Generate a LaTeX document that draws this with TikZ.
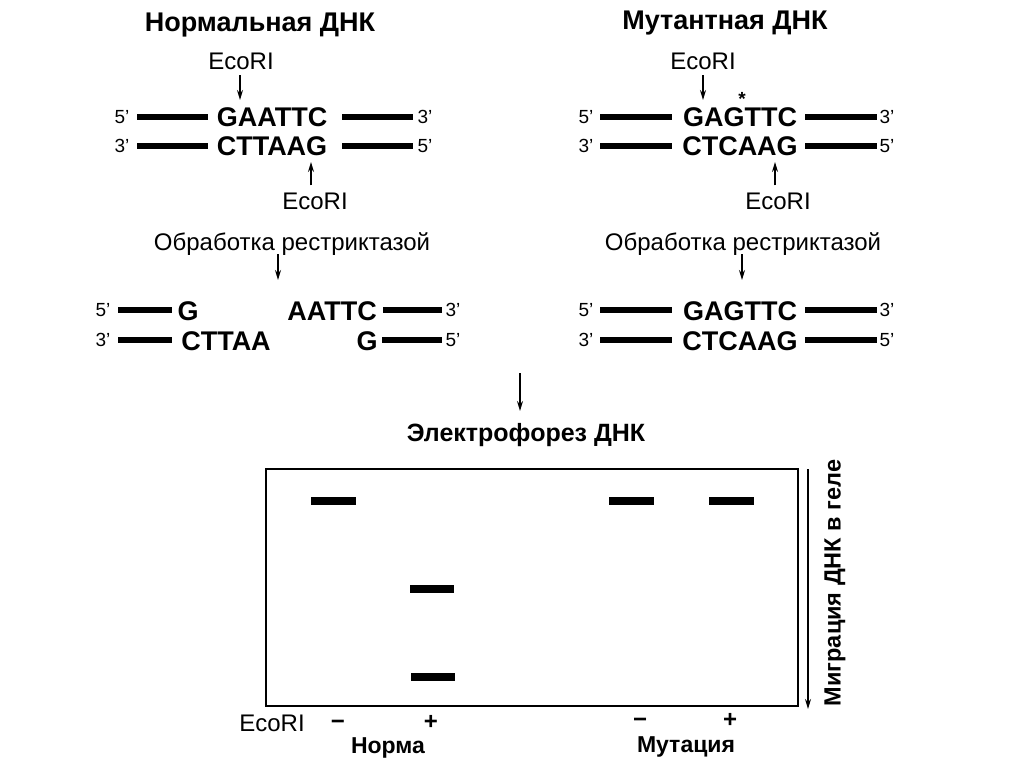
\documentclass[tikz,border=0pt]{standalone}
\usepackage{fontspec}
\setmainfont{Liberation Sans}
\usetikzlibrary{arrows.meta,calc}
\begin{document}
\begin{tikzpicture}[x=1pt,y=-1pt,
  every node/.style={inner sep=0pt},
  seqtext/.style={font=\bfseries\fontsize{27}{30}\selectfont, anchor=base},
  titletext/.style={font=\bfseries\fontsize{27}{30}\selectfont, anchor=base},
  ecotext/.style={font=\fontsize{24}{28}\selectfont, anchor=base},
  primetext/.style={font=\fontsize{19}{22}\selectfont},
  lanetext/.style={font=\bfseries\fontsize{23}{26}\selectfont, anchor=base},
  signtext/.style={font=\bfseries\fontsize{24}{26}\selectfont, anchor=base},
  strand/.style={line width=6pt},
  band/.style={line width=8pt},
  arr/.style={line width=1.3pt, -{Stealth[length=10pt,width=6pt]}},
]
\useasboundingbox[fill=white] (0,0) rectangle (1024,767);

% ---------- Normal DNA ----------
\node[titletext] (titleL) at (260,32) {Нормальная ДНК};
\node[ecotext] (ecoL1) at (241,70) {EcoRI};
\coordinate (tipL1) at (240,100);
\draw[arr] ([xshift=-1pt,yshift=-5pt]ecoL1.south) -- (tipL1);

\node[primetext] (pL1a) at (122,117) {5'};
\node[seqtext] (sL1) at (272,127) {GAATTC};
\node[primetext] (pL1b) at (425,117) {3'};
\draw[strand] (137,117) -- (208,117);
\draw[strand] (342,117) -- (413,117);

\node[primetext] (pL2a) at (122,146) {3'};
\node[seqtext] (sL2) at (272,156) {CTTAAG};
\node[primetext] (pL2b) at (425,146) {5'};
\draw[strand] (137,146) -- (208,146);
\draw[strand] (342,146) -- (413,146);

\node[ecotext] (ecoL2) at (315,210) {EcoRI};
\coordinate (tipL2) at (311,162);
\draw[arr] ([xshift=-4pt,yshift=8pt]ecoL2.north) -- (tipL2);

\node[ecotext] (obrL) at (292,250) {Обработка рестриктазой};
\coordinate (tipL3) at (278,280);
\draw[arr] (278,254) -- (tipL3);

\node[primetext] (pL3a) at (103,310) {5'};
\node[seqtext] (sL3a) at (188,320) {G};
\node[seqtext] (sL3b) at (332,320) {AATTC};
\node[primetext] (pL3b) at (453,310) {3'};
\draw[strand] (118,310) -- (172,310);
\draw[strand] (383,310) -- (442,310);

\node[primetext] (pL4a) at (103,340) {3'};
\node[seqtext] (sL4a) at (226,350) {CTTAA};
\node[seqtext] (sL4b) at (367,350) {G};
\node[primetext] (pL4b) at (453,340) {5'};
\draw[strand] (118,340) -- (172,340);
\draw[strand] (382,340) -- (442,340);

% ---------- Mutant DNA ----------
\node[titletext] (titleR) at (725,30) {Мутантная ДНК};
\node[ecotext] (ecoR1) at (703,70) {EcoRI};
\coordinate (tipR1) at (703,100);
\draw[arr] ([yshift=-5pt]ecoR1.south) -- (tipR1);
\node[font=\bfseries\fontsize{19}{22}\selectfont] (star) at (742,99) {*};

\node[primetext] (pR1a) at (586,117) {5'};
\node[seqtext] (sR1) at (740,127) {GAGTTC};
\node[primetext] (pR1b) at (887,117) {3'};
\draw[strand] (600,117) -- (672,117);
\draw[strand] (805,117) -- (877,117);

\node[primetext] (pR2a) at (586,146) {3'};
\node[seqtext] (sR2) at (740,156) {CTCAAG};
\node[primetext] (pR2b) at (887,146) {5'};
\draw[strand] (600,146) -- (672,146);
\draw[strand] (805,146) -- (877,146);

\node[ecotext] (ecoR2) at (778,210) {EcoRI};
\coordinate (tipR2) at (775,162);
\draw[arr] ([xshift=-3pt,yshift=8pt]ecoR2.north) -- (tipR2);

\node[ecotext] (obrR) at (743,250) {Обработка рестриктазой};
\coordinate (tipR3) at (742,280);
\draw[arr] (742,254) -- (tipR3);

\node[primetext] (pR3a) at (586,310) {5'};
\node[seqtext] (sR3) at (740,320) {GAGTTC};
\node[primetext] (pR3b) at (887,310) {3'};
\draw[strand] (600,310) -- (672,310);
\draw[strand] (805,310) -- (877,310);

\node[primetext] (pR4a) at (586,340) {3'};
\node[seqtext] (sR4) at (740,350) {CTCAAG};
\node[primetext] (pR4b) at (887,340) {5'};
\draw[strand] (600,340) -- (672,340);
\draw[strand] (805,340) -- (877,340);

% ---------- Electrophoresis ----------
\coordinate (startE) at (520,373);
\node[font=\bfseries\fontsize{25}{28}\selectfont, anchor=base] (elec) at (526,441) {Электрофорез ДНК};
\draw[arr] (startE) -- (520,411);

\node[draw, line width=1.8pt, minimum width=532pt, minimum height=237pt] (gel) at (532,587.5) {};
\draw[band] (311,501) -- (356,501);
\draw[band] (609,501) -- (654,501);
\draw[band] (709,501) -- (754,501);
\draw[band] (410,589) -- (454,589);
\draw[band] (411,677) -- (455,677);

\coordinate (migTop) at (808,469);
\coordinate (migBot) at (808,709);
\draw[arr] (migTop) -- (migBot);
\node[font=\bfseries\fontsize{23.5}{27}\selectfont, rotate=90] (mig) at (835,583) {Миграция ДНК в геле};

\node[ecotext] (ecoB) at (272,731) {EcoRI};
\node[signtext] (m1) at (338,729) {−};
\node[signtext] (p1) at (431,729) {+};
\node[lanetext] (norm) at (388,753) {Норма};
\node[signtext] (m2) at (640,727) {−};
\node[signtext] (p2) at (730,727) {+};
\node[lanetext] (mut) at (686,752) {Мутация};
\end{tikzpicture}
\end{document}
